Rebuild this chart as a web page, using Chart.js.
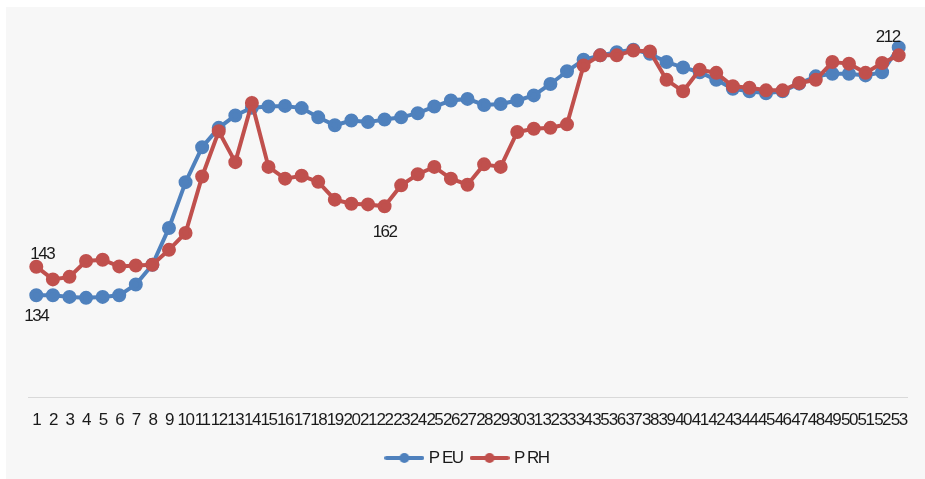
<!DOCTYPE html>
<html>
<head>
<meta charset="utf-8">
<script src="https://cdn.jsdelivr.net/npm/chart.js@4"></script>
<style>
  html, body { margin: 0; padding: 0; background: #ffffff; }
  #wrap { position: absolute; left: 6px; top: 7px; width: 919px; height: 472px; background: #f7f7f7; }
</style>
</head>
<body>
<div id="wrap"><canvas id="priceChart"></canvas></div>
<script>
const weeks = [];
for (let i = 1; i <= 53; i++) weeks.push(String(i));

const pEU = [134,134,133.5,133.2,133.5,134,137.4,143.6,155.2,169.6,180.6,186.7,190.6,193.0,193.4,193.6,192.9,190.0,187.5,189.0,
  188.5,189.3,190.0,191.3,193.4,195.3,195.8,193.9,194.2,195.3,196.9,200.5,204.5,208.1,209.5,210.5,211.3,210.0,207.4,205.7,
  204.2,201.8,199.0,198.2,197.6,198.2,200.6,202.9,203.7,203.7,203.2,204.2,212];

const pRH = [143,139.0,139.8,144.8,145.2,143.1,143.4,143.6,148.3,153.6,171.4,185.6,175.9,194.5,174.4,170.7,171.6,169.7,164.1,162.8,
  162.6,162,168.6,172.1,174.4,170.7,168.8,175.2,174.4,185.4,186.4,186.7,187.8,206.3,209.5,209.5,211.0,210.7,201.8,198.2,
  205.0,204.0,199.8,199.3,198.5,198.5,200.8,201.8,207.4,206.9,204.0,207.1,209.5];

// which points carry a value label, and where
const euLabelsAt = [[0, 'below'], [52, 'above']];
const rhLabelsAt = [[0, 'above'], [21, 'below']];

// no Arial Narrow here: Liberation Sans pulled together with negative letter spacing
const FONT = "'Liberation Sans', Arial, sans-serif";
const SQUEEZE = '-1.5px';

function legendIcon(color) {
  const c = document.createElement('canvas');
  c.width = 40; c.height = 12;
  const g = c.getContext('2d');
  g.strokeStyle = color; g.lineWidth = 4; g.lineCap = 'round';
  g.beginPath(); g.moveTo(2, 6); g.lineTo(38, 6); g.stroke();
  g.fillStyle = color;
  g.beginPath(); g.arc(20, 6, 5, 0, Math.PI * 2); g.fill();
  return c;
}

const narrowText = {
  id: 'narrowText',
  beforeDraw(chart) { chart.ctx.letterSpacing = SQUEEZE; },
  afterLayout(chart) {
    // nudge legend row a little to the right, like the original
    chart.legend.left += 7;
    chart.legend.right += 7;
  }
};

const valueLabels = {
  id: 'valueLabels',
  afterDatasetsDraw(chart) {
    const ctx = chart.ctx;
    ctx.save();
    ctx.letterSpacing = SQUEEZE;
    ctx.font = '17px ' + FONT;
    ctx.fillStyle = '#1a1a1a';
    ctx.textAlign = 'center';
    ctx.textBaseline = 'middle';
    [euLabelsAt, rhLabelsAt].forEach((list, di) => {
      const meta = chart.getDatasetMeta(di);
      list.forEach(([idx, pos]) => {
        const pt = meta.data[idx];
        const val = chart.data.datasets[di].data[idx];
        let x = pt.x, y = pos === 'above' ? pt.y - 12 : pt.y + 21;
        if (idx === 0 && pos === 'above') x += 6;
        if (idx === 52) { x -= 11; y += 2; }
        if (idx === 21) y += 5;
        ctx.fillText(Math.round(val), x, y);
      });
    });
    ctx.restore();
  }
};

new Chart(document.getElementById('priceChart'), {
  type: 'line',
  data: {
    labels: weeks,
    datasets: [{
      label: 'P EU',
      data: pEU,
      borderColor: '#4f81bd',
      backgroundColor: '#4f81bd',
      borderWidth: 4,
      pointRadius: 5,
      pointHoverRadius: 5,
      tension: 0,
      order: 1
    }, {
      label: 'P RH',
      data: pRH,
      borderColor: '#c0504d',
      backgroundColor: '#c0504d',
      borderWidth: 4,
      pointRadius: 5,
      pointHoverRadius: 5,
      tension: 0,
      order: 0
    }]
  },
  options: {
    responsive: true,
    maintainAspectRatio: false,
    animation: false,
    layout: { padding: { left: 22, right: 18, top: 15, bottom: 2.5 } },
    scales: {
      x: {
        offset: true,
        grid: { display: false },
        border: { display: true, color: '#d9d9d9', width: 1 },
        afterFit(scale) { scale.height = 41.5; },
        ticks: {
          autoSkip: false,
          maxRotation: 0,
          minRotation: 0,
          padding: 5,
          color: '#1a1a1a',
          font: { family: FONT, size: 17 }
        }
      },
      y: {
        display: false,
        min: 102,
        max: 220
      }
    },
    plugins: {
      tooltip: { enabled: false },
      legend: {
        position: 'bottom',
        labels: {
          usePointStyle: true,
          pointStyleWidth: 32,
          color: '#1a1a1a',
          font: { family: FONT, size: 17 },
          padding: 11,
          sort: (a, b) => a.datasetIndex - b.datasetIndex,
          generateLabels(chart) {
            const items = Chart.defaults.plugins.legend.labels.generateLabels(chart);
            items.forEach(it => { it.pointStyle = legendIcon(chart.data.datasets[it.datasetIndex].borderColor); });
            return items;
          }
        }
      }
    }
  },
  plugins: [narrowText, valueLabels]
});
</script>
</body>
</html>
